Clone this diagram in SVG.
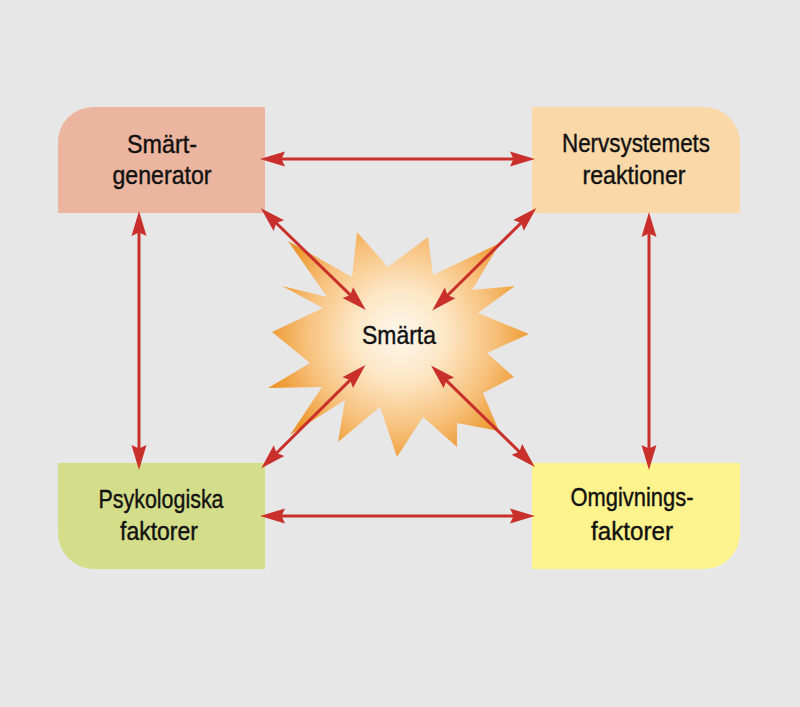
<svg xmlns="http://www.w3.org/2000/svg" width="800" height="707" viewBox="0 0 800 707">
<defs>
<style>
.lbl{font-family:"Liberation Sans",Arial,sans-serif;font-size:26px;fill:#111;stroke:#111;stroke-width:0.4;text-anchor:middle}
.con{stroke:#c9302b;stroke-width:3;fill:none;marker-start:url(#ah);marker-end:url(#ah)}
</style>
<marker id="ah" markerUnits="userSpaceOnUse" orient="auto-start-reverse" markerWidth="40" markerHeight="20" viewBox="-15 -10 30 20" refX="0" refY="0" overflow="visible">
<path d="M12,0 L-13,-7.5 L-9.5,0 L-13,7.5 Z" fill="#c9302b"/>
</marker>
<radialGradient id="burst" gradientUnits="userSpaceOnUse" cx="400" cy="335" r="135">
<stop offset="0" stop-color="#fef8ee"/>
<stop offset="0.35" stop-color="#fde6c4"/>
<stop offset="0.7" stop-color="#f7c07a"/>
<stop offset="1" stop-color="#ec952a"/>
</radialGradient>
</defs>
<rect width="800" height="707" fill="#e7e7e7"/>
<g id="smarta">
<polygon fill="url(#burst)" points="357,232 388,267 428,237 433,275 500,243 472,290 515,286 478,313 529,334 487,353 514,377 483,393 499,431 457,423 457,447 423,417 397,457 380,407 338,442 345,400 290,435 322,387 268,388 310,363 272,332 323,308 282,286 327,297 288,241 352,277"/>
<text class="lbl" x="399" y="344" textLength="74" lengthAdjust="spacingAndGlyphs">Smärta</text>
</g>
<g id="smartgenerator">
<path d="M93,107 H265 V213 H58 V142 A35,35 0 0 1 93,107 Z" fill="#ecb59f"/>
<text class="lbl" x="162" y="153" textLength="70" lengthAdjust="spacingAndGlyphs">Smärt-</text>
<text class="lbl" x="162" y="184" textLength="99" lengthAdjust="spacingAndGlyphs">generator</text>
</g>
<g id="nervsystemets">
<path d="M532,107 H704 A36,36 0 0 1 740,143 V213 H532 Z" fill="#fad8a8"/>
<text class="lbl" x="636" y="152" textLength="148" lengthAdjust="spacingAndGlyphs">Nervsystemets</text>
<text class="lbl" x="634" y="184" textLength="103" lengthAdjust="spacingAndGlyphs">reaktioner</text>
</g>
<g id="psykologiska">
<path d="M58,463 H265 V569 H94 A36,36 0 0 1 58,533 Z" fill="#d4de8a"/>
<text class="lbl" x="161" y="508" textLength="125" lengthAdjust="spacingAndGlyphs">Psykologiska</text>
<text class="lbl" x="159" y="540" textLength="78" lengthAdjust="spacingAndGlyphs">faktorer</text>
</g>
<g id="omgivnings">
<path d="M532,463 H740 V533 A36,36 0 0 1 704,569 H532 Z" fill="#fef38d"/>
<text class="lbl" x="632" y="506" textLength="123" lengthAdjust="spacingAndGlyphs">Omgivnings-</text>
<text class="lbl" x="632" y="540" textLength="82" lengthAdjust="spacingAndGlyphs">faktorer</text>
</g>
<g id="connectors">
<line class="con" x1="272" y1="159" x2="523" y2="159"/>
<line class="con" x1="272" y1="516" x2="523" y2="516"/>
<line class="con" x1="139" y1="223" x2="139" y2="458"/>
<line class="con" x1="649" y1="224" x2="649" y2="458"/>
<line class="con" x1="269.5" y1="216.5" x2="357.2" y2="301.7"/>
<line class="con" x1="527.8" y1="216.3" x2="440.8" y2="302"/>
<line class="con" x1="269.8" y1="459.8" x2="356.9" y2="373.4"/>
<line class="con" x1="526.2" y1="458.5" x2="439.6" y2="373.9"/>
</g>
</svg>
